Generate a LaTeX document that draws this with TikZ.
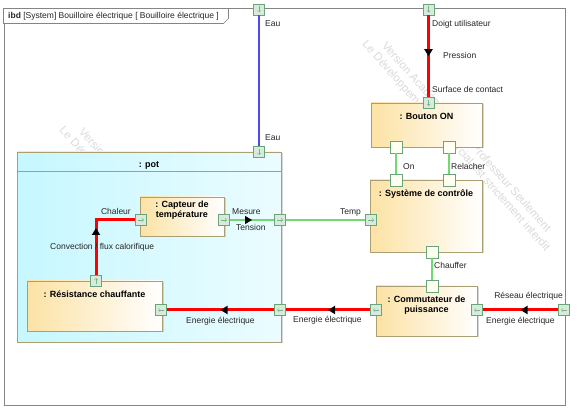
\documentclass[tikz,border=0pt]{standalone}
\usepackage{fontspec}
\setmainfont{Liberation Sans}
\usetikzlibrary{arrows.meta,decorations.markings,shadows}
\definecolor{flowred}{HTML}{FF0000}
\definecolor{flowgreen}{HTML}{72D872}
\definecolor{flowblue}{HTML}{4A4AF2}
\definecolor{blkfill}{HTML}{FCE2A4}
\definecolor{blkdraw}{HTML}{A99F72}
\definecolor{potfill}{HTML}{C6F7FF}
\definecolor{portfill}{HTML}{D6EBDC}
\definecolor{portplain}{HTML}{FFFFF2}
\definecolor{portdraw}{HTML}{6AA57A}
\definecolor{portarrow}{HTML}{7DB08A}
\definecolor{framegray}{HTML}{858585}

\begin{document}
\begin{tikzpicture}[
  x=1pt, y=-1pt,
  font=\fontsize{8.5}{10}\selectfont,
  blk/.style 2 args={draw=blkdraw, line width=0.7pt, left color=blkfill, right color=white,
                     minimum width=#1pt, minimum height=#2pt, inner sep=0pt,
                     drop shadow={shadow xshift=1.5pt, shadow yshift=-1.5pt, fill=black!30}},
  potblk/.style 2 args={blk={#1}{#2}, left color=potfill, right color=potfill!35!white},
  blkname/.style={anchor=north, yshift=-7pt, align=center, inner sep=3pt,
                  font=\fontsize{9}{10.2}\selectfont\bfseries},
  port/.style={draw=portdraw, line width=0.6pt, fill=portfill, minimum size=11pt, inner sep=0pt},
  portN/.style={port, fill=portplain, minimum size=12pt},
  portarr/.style={draw=portarrow, line width=0.5pt, -{Straight Barb[length=1.6pt,width=3.2pt]}},
  portD/.style={port, path picture={\draw[portarr] ([yshift=-2.5pt]path picture bounding box.north) -- ([yshift=2.5pt]path picture bounding box.south);}},
  portU/.style={port, path picture={\draw[portarr] ([yshift=2.5pt]path picture bounding box.south) -- ([yshift=-2.5pt]path picture bounding box.north);}},
  portR/.style={port, path picture={\draw[portarr] ([xshift=2.5pt]path picture bounding box.west) -- ([xshift=-2.5pt]path picture bounding box.east);}},
  portL/.style={port, path picture={\draw[portarr] ([xshift=-2.5pt]path picture bounding box.east) -- ([xshift=2.5pt]path picture bounding box.west);}},
  redflow/.style={draw=flowred, line width=3pt},
  greenflow/.style={draw=flowgreen, line width=1.3pt},
  blueflow/.style={draw=flowblue, line width=2pt},
  midarr/.style={postaction={decorate, decoration={markings,
                 mark=at position 0.5 with {\arrow{Triangle[length=7pt,width=8pt,color=black]}}}}},
  lbl/.style={inner sep=0pt, text height=6pt, text depth=1.5pt, text=black!85},
  wmark/.style={text=black!14, font=\fontsize{11.5}{13.5}\selectfont, align=center, rotate=-48.5},
]
\fill[white] (0,0) rectangle (582,417);
\useasboundingbox (0,0) rectangle (582,417);

% ---- watermark ----
\node[wmark] (wm1) at (461,142) {Version Académique pour Professeur Seulement\\Le Développement Commercial est strictement interdit};
\node[wmark] (wm2) at (158,228) {Version Académique pour Professeur Seulement\\Le Développement Commercial est strictement interdit};

% ---- frame ----
\node[draw=framegray, line width=1pt, minimum width=561pt, minimum height=396pt, inner sep=0pt] (frame) at (284.5,207) {};
\draw[framegray, line width=0.6pt, fill=white] (frame.north west) -- ++(225,0) -- ++(0,10) -- ++(-5,5) -- ++(-220,0) -- cycle;
\node[lbl, anchor=west] (ibd) at (8,16.5) {\textbf{ibd} [System] Bouilloire électrique [ Bouilloire électrique ]};

% ---- blocks ----
\node[potblk={264}{190}, label={[blkname]north:{: pot}}] (pot) at (149,247) {};
\draw[blkdraw, line width=0.6pt] ([yshift=-20pt]pot.north west) -- ([yshift=-20pt]pot.north east);
\node[blk={84}{39}, label={[blkname, yshift=6pt]north:{: Capteur de\\température}}] (capteur) at (182,216.5) {};
\node[blk={135}{50}, label={[blkname]north:{: Résistance chauffante}}] (resist) at (94.5,306) {};
\node[blk={111}{44}, label={[blkname]north:{: Bouton ON}}] (bouton) at (426.5,125) {};
\node[blk={112}{72}, label={[blkname]north:{: Système de contrôle}}] (systeme) at (426,216) {};
\node[blk={101}{50}, label={[blkname]north:{: Commutateur de\\puissance}}] (commut) at (426.5,311) {};

% ---- ports ----
\node[portD] (eauT)   at (259,9.5) {};
\node[portD] (doigtT) at (428.5,9.5) {};
\node[portD] (potT)   at (259,152) {};
\node[portD] (boutT)  at (428.5,103) {};
\node[portN] (boutB1) at (396,147) {};
\node[portN] (boutB2) at (449,147) {};
\node[portN] (sysT1)  at (396,180) {};
\node[portN] (sysT2)  at (449,180) {};
\node[portR] (sysL)   at (371,220) {};
\node[portN] (sysB)   at (432,252) {};
\node[portN] (comT)   at (432,286) {};
\node[portL] (comL)   at (376,310) {};
\node[portL] (comR)   at (477,310) {};
\node[portL] (reseau) at (564,310) {};
\node[portR] (potR1)  at (280,220) {};
\node[portL] (potR2)  at (280,310) {};
\node[portR] (capL)   at (141,220) {};
\node[portR] (capR)   at (224,220) {};
\node[portL] (resR)   at (161,310) {};
\node[portU] (resT)   at (96,281) {};

% ---- connectors ----
\draw[blueflow] (eauT) -- (potT);
\draw[redflow, midarr] (doigtT) -- (boutT);
\draw[greenflow] (boutB1) -- (sysT1);
\draw[greenflow] (boutB2) -- (sysT2);
\draw[greenflow, midarr] (capR) -- (potR1);
\draw[greenflow] (potR1) -- (sysL);
\draw[greenflow] (sysB) -- (comT);
\draw[redflow, midarr] (reseau) -- (comR);
\draw[redflow, midarr] (comL) -- (potR2);
\draw[redflow, midarr] (potR2) -- (resR);
\draw[redflow, midarr] (resT) |- (capL);

% ---- labels ----
\node[lbl, anchor=west] (lEau1)  at (265,24)  {Eau};
\node[lbl, anchor=west] (lEau2)  at (265,138) {Eau};
\node[lbl, anchor=west] (lDoigt) at (432,24)  {Doigt utilisateur};
\node[lbl, anchor=west] (lPress) at (443,56)  {Pression};
\node[lbl, anchor=west] (lSurf)  at (432,90)  {Surface de contact};
\node[lbl, anchor=west] (lOn)    at (403,167) {On};
\node[lbl, anchor=west] (lRel)   at (451,167) {Relacher};
\node[lbl, anchor=west] (lMes)   at (232,212) {Mesure};
\node[lbl, anchor=west] (lTens)  at (236,228) {Tension};
\node[lbl, anchor=east] (lTemp)  at (361,212) {Temp};
\node[lbl, anchor=west] (lChauf) at (434,266) {Chauffer};
\node[lbl, anchor=east] (lRes)   at (563,296) {Réseau électrique};
\node[lbl, anchor=west] (lEnR)   at (486,321) {Energie électrique};
\node[lbl, anchor=west] (lEnM)   at (293,320) {Energie électrique};
\node[lbl, anchor=west] (lEnL)   at (186,321) {Energie électrique};
\node[lbl, anchor=east] (lChal)  at (131,212) {Chaleur};
\node[lbl, anchor=west] (lConv)  at (50,247)  {Convection / flux calorifique};
\end{tikzpicture}
\end{document}
